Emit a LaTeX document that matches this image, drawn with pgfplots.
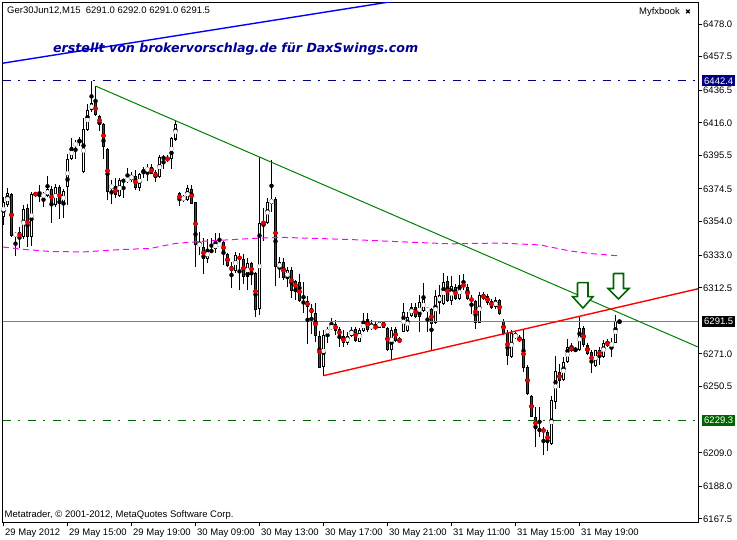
\documentclass[border=0pt]{standalone}
\usepackage{pgfplots}
\pgfplotsset{compat=1.18}
\usepackage{pgfplotstable}
\usepackage{fontspec}
\setmainfont{Liberation Sans}
\newfontfamily\dejavu{DejaVu Sans}
\definecolor{mtnavy}{RGB}{0,0,128}
\definecolor{mtdkgreen}{RGB}{0,100,0}
\definecolor{mtgreen}{RGB}{0,128,0}
\definecolor{mtred}{RGB}{235,0,0}
\definecolor{mtblue}{RGB}{0,0,255}
\definecolor{mtmag}{RGB}{255,0,255}
\definecolor{wmblue}{RGB}{0,0,150}
\setlength{\fboxsep}{2pt}

% M15 candles: index, open, high, low, close
\pgfplotstableread{
i o h l c
0 6357.1 6369.7 6351.9 6366.6
1 6364.5 6374.9 6363.5 6371.8
2 6371.4 6372.2 6344.6 6345.2
3 6344.6 6347.7 6332.7 6347.3
4 6347.7 6350.9 6337.3 6344.2
5 6344.6 6364.5 6343.5 6362.0
6 6362.4 6365.5 6338.3 6344.6
7 6344.6 6372.8 6338.7 6371.4
8 6372.4 6372.8 6369.7 6370.3
9 6370.3 6377.0 6366.6 6371.1
10 6369.7 6372.8 6363.0 6371.4
11 6370.3 6382.7 6369.7 6374.5
12 6374.9 6376.6 6353.4 6364.5
13 6364.5 6377.4 6363.4 6376.0
14 6376.2 6377.0 6356.1 6365.1
15 6365.1 6374.9 6356.1 6373.2
16 6375.5 6396.5 6364.5 6393.1
17 6393.3 6406.3 6392.7 6400.6
18 6401.7 6405.2 6393.1 6403.6
19 6404.4 6407.3 6401.7 6404.8
20 6385.4 6419.2 6384.3 6411.9
21 6411.5 6428.2 6411.1 6424.0
22 6424.0 6442.4 6423.0 6428.2
23 6428.9 6439.1 6420.5 6421.3
24 6420.5 6421.0 6411.1 6414.6
25 6415.3 6416.0 6393.7 6400.6
26 6399.6 6400.5 6367.6 6372.4
27 6374.9 6380.1 6364.9 6377.4
28 6376.4 6381.2 6369.1 6370.7
29 6370.3 6381.2 6369.7 6380.1
30 6379.5 6381.2 6369.3 6380.1
31 6379.7 6387.9 6378.5 6381.2
32 6380.6 6385.4 6379.0 6383.3
33 6382.7 6386.4 6373.9 6374.9
34 6375.3 6384.7 6373.5 6384.3
35 6385.4 6388.5 6381.8 6386.0
36 6386.0 6390.0 6379.5 6387.5
37 6388.1 6390.0 6383.9 6384.3
38 6385.0 6386.4 6379.0 6382.2
39 6382.2 6395.8 6381.8 6394.4
40 6393.7 6395.8 6387.0 6394.4
41 6394.1 6395.8 6391.6 6392.7
42 6393.1 6407.3 6387.0 6406.3
43 6405.6 6417.8 6404.8 6415.3
44 6371.8 6372.4 6363.8 6367.6
45 6367.6 6370.7 6366.6 6369.7
46 6367.6 6377.0 6367.2 6374.9
47 6374.9 6377.0 6365.1 6365.5
48 6366.1 6366.5 6325.8 6339.4
49 6338.9 6347.7 6333.1 6340.4
50 6338.3 6343.5 6321.0 6331.0
51 6330.4 6343.5 6328.3 6336.6
52 6335.2 6343.5 6334.6 6336.2
53 6336.9 6346.7 6334.6 6340.4
54 6338.9 6347.0 6338.3 6340.4
55 6341.5 6342.1 6327.2 6334.1
56 6333.7 6334.6 6325.8 6326.4
57 6326.2 6328.9 6312.2 6323.3
58 6323.3 6335.2 6321.6 6333.1
59 6332.7 6334.6 6311.1 6330.0
60 6330.6 6334.1 6315.3 6319.1
61 6319.5 6331.0 6311.1 6327.9
62 6328.3 6328.9 6314.3 6320.5
63 6322.0 6322.6 6294.0 6298.6
64 6299.0 6394.8 6295.9 6353.0
65 6354.4 6362.4 6341.9 6352.5
66 6353.0 6368.6 6352.5 6366.5
67 6365.5 6392.7 6360.3 6368.2
68 6368.6 6369.7 6313.9 6325.4
69 6324.7 6332.0 6318.5 6328.5
70 6328.5 6331.0 6317.4 6318.5
71 6318.0 6325.8 6312.8 6323.7
72 6323.7 6325.8 6305.9 6310.7
73 6317.0 6317.4 6304.9 6311.1
74 6315.9 6321.2 6303.8 6304.4
75 6303.8 6316.4 6296.9 6302.8
76 6304.4 6307.4 6277.7 6300.3
77 6299.6 6302.8 6283.5 6296.9
78 6296.9 6302.8 6278.7 6282.5
79 6282.5 6285.4 6262.4 6262.6
80 6263.0 6286.0 6257.4 6282.9
81 6284.0 6288.1 6277.7 6286.5
82 6286.5 6293.4 6286.0 6289.2
83 6290.2 6292.7 6282.9 6285.6
84 6286.5 6288.1 6275.6 6282.5
85 6282.3 6286.0 6275.6 6277.7
86 6278.1 6285.0 6276.6 6282.3
87 6282.5 6288.1 6281.9 6286.0
88 6286.7 6288.1 6278.7 6279.4
89 6278.7 6287.1 6278.3 6286.0
90 6285.6 6296.5 6285.0 6291.3
91 6293.4 6296.5 6285.0 6286.5
92 6287.1 6292.3 6286.0 6289.2
93 6289.2 6291.3 6286.0 6286.7
94 6287.7 6291.7 6287.1 6291.3
95 6291.3 6291.7 6287.1 6287.7
96 6287.1 6288.1 6273.1 6273.9
97 6273.9 6288.1 6268.3 6286.5
98 6286.7 6288.1 6278.7 6279.4
99 6280.2 6281.9 6277.7 6278.7
100 6285.0 6302.8 6284.6 6297.5
101 6285.6 6297.5 6285.0 6294.4
102 6295.0 6302.8 6294.4 6300.7
103 6300.7 6302.8 6293.4 6294.0
104 6294.0 6308.0 6285.0 6303.8
105 6298.2 6315.7 6297.5 6305.3
106 6298.2 6300.7 6284.6 6299.6
107 6299.0 6299.6 6272.9 6289.8
108 6290.6 6311.1 6290.2 6307.4
109 6302.8 6314.3 6296.1 6308.0
110 6302.3 6321.6 6301.7 6316.4
111 6317.0 6320.1 6303.8 6304.4
112 6304.4 6319.9 6301.7 6313.6
113 6313.2 6315.3 6304.9 6305.5
114 6305.3 6320.5 6304.9 6314.3
115 6314.7 6321.2 6311.1 6313.2
116 6313.2 6315.3 6304.9 6305.3
117 6305.9 6308.0 6295.9 6304.4
118 6304.4 6304.9 6286.7 6290.6
119 6290.6 6309.7 6290.2 6308.0
120 6308.4 6310.1 6304.8 6305.9
121 6307.4 6309.0 6301.7 6303.2
122 6304.4 6305.9 6299.6 6300.2
123 6300.2 6306.9 6299.0 6304.8
124 6304.8 6305.9 6295.4 6296.1
125 6291.9 6293.3 6282.9 6283.9
126 6284.4 6286.0 6264.1 6269.7
127 6269.3 6286.0 6268.9 6284.4
128 6281.4 6285.0 6280.8 6283.5
129 6281.4 6282.9 6278.7 6279.3
130 6280.2 6286.0 6259.9 6262.0
131 6263.0 6264.1 6245.3 6245.9
132 6244.6 6245.3 6231.2 6231.7
133 6231.7 6237.9 6212.8 6223.9
134 6223.9 6237.9 6219.1 6222.9
135 6223.9 6225.4 6207.6 6222.3
136 6222.3 6223.3 6210.1 6214.9
137 6214.5 6244.8 6213.9 6242.1
138 6241.1 6269.7 6236.9 6260.3
139 6259.9 6264.7 6249.4 6254.0
140 6254.7 6269.3 6254.2 6266.2
141 6266.2 6280.2 6265.7 6275.2
142 6276.0 6278.1 6272.4 6273.1
143 6272.9 6275.6 6272.2 6274.1
144 6273.5 6294.4 6273.1 6287.1
145 6287.7 6288.5 6275.6 6276.6
146 6276.6 6277.7 6270.3 6271.0
147 6272.0 6273.5 6259.3 6265.1
148 6263.7 6273.9 6263.0 6273.5
149 6273.9 6275.6 6264.1 6269.7
150 6269.3 6280.2 6268.9 6278.1
151 6279.1 6280.8 6275.6 6276.2
152 6276.2 6280.8 6269.3 6277.7
153 6278.1 6295.4 6277.7 6291.7
154 6291.0 6292.0 6291.0 6291.5
}\candles

\begin{document}
\begin{tikzpicture}
\begin{axis}[
    scale only axis,
    width=695.5pt, height=519.5pt,
    xmin=-0.25, xmax=173.625,
    ymin=6165.6, ymax=6491.5,
    axis line style={line width=1pt},
    xtick={0,16,...,144},
    xticklabels={29 May 2012, 29 May 15:00, 29 May 19:00, 30 May 09:00, 30 May 13:00, 30 May 17:00, 30 May 21:00, 31 May 11:00, 31 May 15:00, 31 May 19:00},
    ytick={6167.5,6188.0,6209.0,6250.5,6271.0,6312.5,6333.0,6354.0,6374.5,6395.5,6416.0,6436.5,6457.5,6478.0},
    yticklabels={6167.5,6188.0,6209.0,6250.5,6271.0,6312.5,6333.0,6354.0,6374.5,6395.5,6416.0,6436.5,6457.5,6478.0},
    xtick pos=bottom, ytick pos=right, yticklabel pos=right,
    tick align=outside, major tick length=4pt,
    tick style={black, line width=1pt},
    tick label style={font=\fontsize{9.5}{11}\selectfont, inner sep=0pt},
    xticklabel style={anchor=north west, xshift=1.5pt, yshift=-2.5pt},
    yticklabel style={anchor=west, xshift=1pt},
    extra y ticks={6442.4,6291.5,6229.3},
    extra y tick labels={\colorbox{mtnavy}{\textcolor{white}{6442.4}},\colorbox{black}{\textcolor{white}{6291.5}},\colorbox{mtdkgreen}{\textcolor{white}{6229.3}}},
    extra y tick style={major tick length=0pt, yticklabel style={xshift=3pt}},
]
% wicks
\addplot[black, only marks, mark=none, error bars/.cd, y dir=both, y explicit, error mark=none,
    error bar style={black, line width=1pt}]
    table[x=i, y expr={(\thisrow{h}+\thisrow{l})/2}, y error expr={(\thisrow{h}-\thisrow{l})/2}] {\candles};
% body outline
\addplot[black, only marks, mark=none, error bars/.cd, y dir=both, y explicit, error mark=none,
    error bar style={black, line width=3pt}]
    table[x=i, y expr={(\thisrow{o}+\thisrow{c})/2}, y error expr={max(abs(\thisrow{o}-\thisrow{c})/2,0.32)}] {\candles};
% up bodies (white inside)
\addplot[white, only marks, mark=none,
    restrict expr to domain={\thisrow{c}-\thisrow{o}}{1.4:1000},
    error bars/.cd, y dir=both, y explicit, error mark=none,
    error bar style={white, line width=1pt}]
    table[x=i, y expr={(\thisrow{o}+\thisrow{c})/2}, y error expr={(\thisrow{c}-\thisrow{o})/2-0.63}] {\candles};
% down bodies (red inside)
\addplot[mtred, only marks, mark=none,
    restrict expr to domain={\thisrow{o}-\thisrow{c}}{1.4:1000},
    error bars/.cd, y dir=both, y explicit, error mark=none,
    error bar style={mtred, line width=1pt}]
    table[x=i, y expr={(\thisrow{o}+\thisrow{c})/2}, y error expr={(\thisrow{o}-\thisrow{c})/2-0.63}] {\candles};

% moving average
\addplot[mtmag, line width=1pt, dash pattern=on 6pt off 4pt] coordinates {
    (-0.1,6338.1) (4.2,6336.8) (11.7,6335.3) (19.9,6335.0) (29.2,6336.5) (36.7,6337.2)
    (42.9,6340.3) (49.2,6341.6) (61.7,6343.4) (69.2,6344.2) (79.2,6343.4) (86.7,6342.8)
    (99.2,6341.4) (111.7,6340.1) (124.2,6340.6) (134.2,6339.4) (141.7,6335.6) (146.7,6334.0) (154.2,6332.5)
};
% horizontal levels
\addplot[mtnavy, line width=1pt, dash pattern=on 8pt off 7pt on 2pt off 8pt] coordinates {(-0.25,6442.4) (173.625,6442.4)};
\addplot[mtdkgreen, line width=1pt, dash pattern=on 8pt off 7pt on 2pt off 8pt] coordinates {(-0.25,6229.3) (173.625,6229.3)};
\addplot[gray, line width=1pt] coordinates {(-0.25,6291.5) (173.625,6291.5)};
% trend lines
\addplot[mtblue, line width=1.4pt] coordinates {(-0.25,6453.4) (120,6501.2)};
\addplot[mtgreen, line width=1pt] coordinates {(23.0,6439.1) (173.625,6275.4)};
\addplot[red, line width=1.4pt] coordinates {(80,6257.4) (173.625,6311.9)};
% arrows
\addplot[mtdkgreen, fill=white, line width=1.6pt, line join=miter] coordinates {
    (143.5,6315.8) (146.13,6315.8) (146.13,6307.0) (147.38,6307.0) (144.88,6299.8)
    (142.25,6307.0) (143.5,6307.0) (143.5,6315.8)
};
\addplot[mtdkgreen, fill=white, line width=1.6pt, line join=miter] coordinates {
    (152.5,6321.5) (155.0,6321.5) (155.0,6312.1) (156.38,6312.1) (153.75,6305.5)
    (151.13,6312.1) (152.5,6312.1) (152.5,6321.5)
};

\node[anchor=base west, inner sep=0pt, font=\fontsize{9.5}{11}\selectfont] at (rel axis cs:0.0065,0.9779) {Ger30Jun12,M15\ \ 6291.0 6292.0 6291.0 6291.5};
\node[anchor=base west, inner sep=0pt, text=wmblue, font=\dejavu\bfseries\itshape\fontsize{12.6}{15}\selectfont] at (rel axis cs:0.0726,0.9034) {erstellt von brokervorschlag.de für DaxSwings.com};
\node[anchor=base east, inner sep=0pt, font=\fontsize{9.5}{11}\selectfont] at (rel axis cs:0.9741,0.976) {Myfxbook};
\node[inner sep=0pt, font=\dejavu\fontsize{7}{7}\selectfont] at (rel axis cs:0.9856,0.9807) {✖};
\node[anchor=base west, inner sep=0pt, font=\fontsize{9.5}{11}\selectfont] at (rel axis cs:0.0029,0.0096) {Metatrader, © 2001-2012, MetaQuotes Software Corp.};

\coordinate (SW) at (rel axis cs:0,0);
\coordinate (NE) at (rel axis cs:1,1);
\end{axis}
\pgfresetboundingbox
\path[use as bounding box] ([shift={(-2.5pt,-17pt)}]SW) rectangle ([shift={(39pt,2.5pt)}]NE);
\end{tikzpicture}
\end{document}
